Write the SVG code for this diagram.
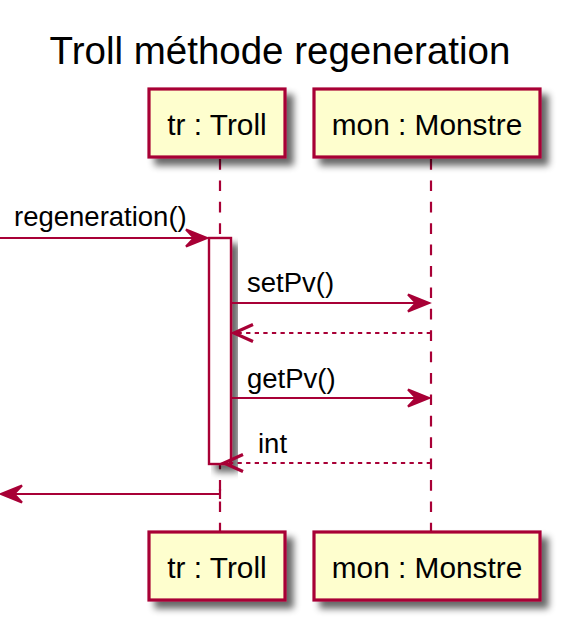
<svg xmlns="http://www.w3.org/2000/svg" width="564" height="627" viewBox="0 0 564 627">
<defs>
<filter id="sh" x="-20%" y="-20%" width="150%" height="150%">
<feGaussianBlur in="SourceAlpha" stdDeviation="3.5"/>
<feOffset dx="7" dy="7" result="b"/>
<feComponentTransfer><feFuncA type="linear" slope="0.6"/></feComponentTransfer>
<feMerge><feMergeNode/><feMergeNode in="SourceGraphic"/></feMerge>
</filter>
</defs>
<style>
.box{fill:#FEFECE;stroke:#A80036;stroke-width:3.2}
.act{fill:#FFFFFF;stroke:#A80036;stroke-width:2.4}
.life{stroke:#A80036;stroke-width:2.2;stroke-dasharray:10.7,10.7;fill:none}
.msg{stroke:#A80036;stroke-width:2.2;fill:none}
.ret{stroke:#A80036;stroke-width:2.2;fill:none;stroke-dasharray:4.3,4.3}
.head{fill:#A80036;stroke:#A80036;stroke-width:2.2}
.open{fill:none;stroke:#A80036;stroke-width:3.2}
.pt{font-family:"Liberation Sans",Arial,sans-serif;font-size:29.8px;fill:#000;text-anchor:middle}
.mt{font-family:"Liberation Sans",Arial,sans-serif;font-size:27.5px;fill:#000}
.title{font-family:"Liberation Sans",Arial,sans-serif;font-size:38.5px;fill:#000;text-anchor:middle}
</style>
<rect width="564" height="627" fill="#FFFFFF"/>
<text class="title" x="280" y="64">Troll méthode regeneration</text>
<g id="lifelines">
<line class="life" x1="220" y1="159" x2="220" y2="531"/>
<line class="life" x1="431" y1="159" x2="431" y2="531"/>
</g>
<g id="tr_top"><rect class="box" x="149" y="89" width="136" height="68" filter="url(#sh)"/><text class="pt" x="217" y="135">tr : Troll</text></g>
<g id="mon_top"><rect class="box" x="314" y="89" width="226" height="68" filter="url(#sh)"/><text class="pt" x="427" y="135">mon : Monstre</text></g>
<g id="tr_bottom"><rect class="box" x="149" y="532" width="136" height="68" filter="url(#sh)"/><text class="pt" x="217" y="578">tr : Troll</text></g>
<g id="mon_bottom"><rect class="box" x="314" y="532" width="226" height="68" filter="url(#sh)"/><text class="pt" x="427" y="578">mon : Monstre</text></g>
<g id="activation"><rect class="act" x="209" y="238" width="22" height="226" filter="url(#sh)"/></g>
<g id="connectors">
<line class="msg" x1="0" y1="238" x2="206" y2="238"/>
<polygon class="head" points="207,238 186,229.5 194,238 186,246.5"/>
<text class="mt" x="14" y="226">regeneration()</text>

<line class="msg" x1="232" y1="303" x2="428" y2="303"/>
<polygon class="head" points="429,303 408,294.5 416,303 408,311.5"/>
<text class="mt" x="247" y="292">setPv()</text>

<line class="ret" x1="431" y1="333" x2="234" y2="333"/>
<polyline class="open" points="253,324.5 234,333 253,341.5"/>

<line class="msg" x1="232" y1="398" x2="428" y2="398"/>
<polygon class="head" points="429,398 408,389.5 416,398 408,406.5"/>
<text class="mt" x="247" y="388">getPv()</text>

<line class="ret" x1="431" y1="463" x2="224" y2="463"/>
<polyline class="open" points="243,454.5 224,463 243,471.5"/>
<text class="mt" x="258" y="453">int</text>

<line class="msg" x1="220" y1="494" x2="3" y2="494"/>
<line class="msg" x1="220" y1="489" x2="220" y2="499"/>
<polygon class="head" points="1,494 22,485.5 14,494 22,502.5"/>
</g>
</svg>
